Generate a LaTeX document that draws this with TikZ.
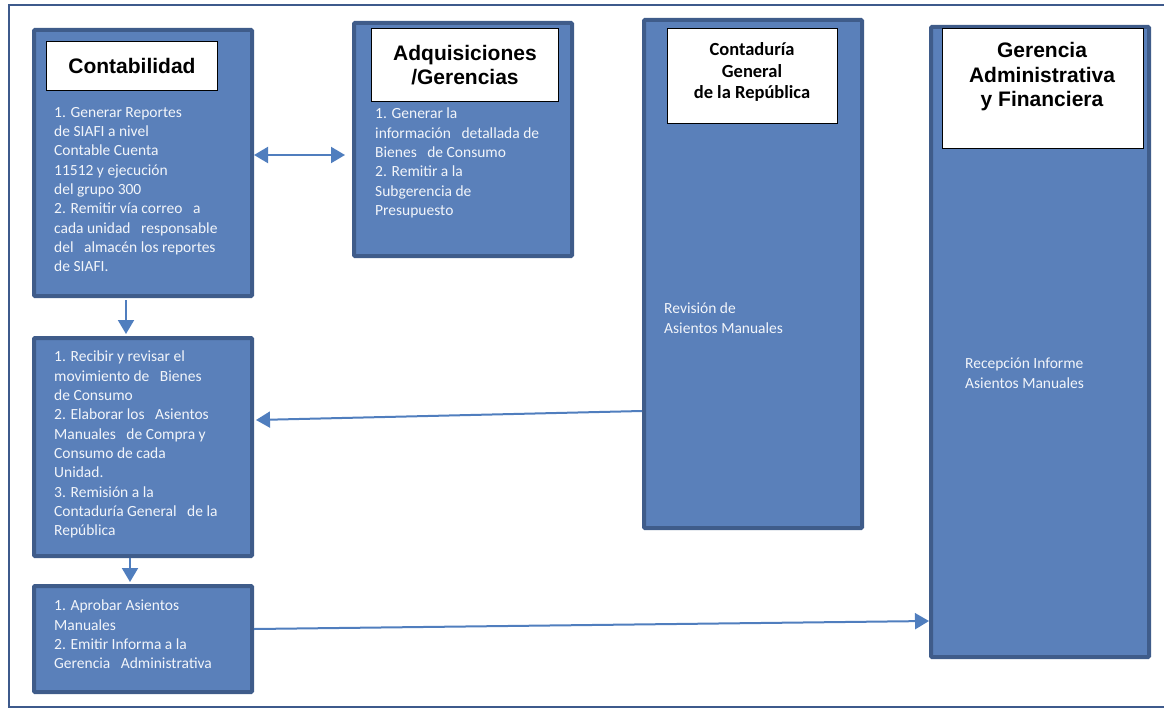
\documentclass[tikz,border=0pt]{standalone}
\usepackage{fontspec}
\setmainfont{Carlito}
\newfontfamily\headfont{Liberation Sans}
\usetikzlibrary{arrows.meta}
\definecolor{lanefill}{RGB}{90,128,186}
\definecolor{laneedge}{RGB}{63,92,138}
\definecolor{arrowblue}{RGB}{80,126,190}
\definecolor{framecol}{RGB}{62,90,140}
\definecolor{bodytext}{RGB}{242,245,250}
\tikzset{
  lane/.style={draw=laneedge, fill=lanefill, line width=4pt, rounded corners=1pt,
    anchor=north west, inner sep=0pt, outer sep=2pt},
  titlebox/.style={draw=black, fill=white, line width=0.9pt, anchor=north west, inner sep=0pt},
  headA/.style={font=\headfont\bfseries\fontsize{21}{23.5}\selectfont, align=center, inner sep=0pt},
  headB/.style={font=\bfseries\fontsize{18.5}{21.5}\selectfont, align=center, inner sep=0pt},
  body/.style={font=\fontsize{15.5}{19.3}\selectfont, text=bodytext, align=left,
    anchor=north west, inner sep=0pt},
  arr/.style={draw=arrowblue, line width=2pt, -{Triangle[length=14pt,width=16pt]}},
  darr/.style={draw=arrowblue, line width=2pt, {Triangle[length=14pt,width=16pt]}-{Triangle[length=14pt,width=16pt]}},
}
\begin{document}
\begin{tikzpicture}[x=1pt,y=-1pt]
\useasboundingbox (0,0) rectangle (1164,709);
% outer frame
\draw[framecol, line width=2pt] (9,5) rectangle (1185,707);

% swim-lane boxes
\node[lane, minimum width=218pt, minimum height=266pt] (cont) at (32,28) {};
\node[lane, minimum width=218pt, minimum height=233pt] (adq) at (352,21) {};
\node[lane, minimum width=218pt, minimum height=508pt] (cgr) at (642,18) {};
\node[lane, minimum width=218pt, minimum height=630pt] (gaf) at (929,25) {};
\node[lane, minimum width=218pt, minimum height=218pt] (mid) at (32,336) {};
\node[lane, minimum width=218pt, minimum height=106pt] (bot) at (32,584) {};

% title boxes
\node[titlebox, minimum width=171pt, minimum height=49pt] (contT) at (46,41) {};
\node[headA] (contH) at (contT.center) {Contabilidad};
\node[titlebox, minimum width=187pt, minimum height=73pt] (adqT) at (371,28) {};
\node[headA] (adqH) at (adqT.center) {Adquisiciones\\/Gerencias};
\node[titlebox, minimum width=170pt, minimum height=95pt] (cgrT) at (667,28) {};
\node[headB] (cgrH) at (752,72) {Contaduría\\General\\de la República};
\node[titlebox, minimum width=201pt, minimum height=120pt] (gafT) at (942,28) {};
\node[headA, font=\headfont\bfseries\fontsize{21}{24.5}\selectfont] (gafH) at (1042,77) {Gerencia\\Administrativa\\y Financiera};

% lane texts
\node[body] (contB) at (54,107) {1. Generar Reportes\\de SIAFI a nivel\\Contable Cuenta\\11512 y ejecución\\del grupo 300\\2. Remitir vía correo \ \ a\\cada unidad \ \ responsable\\del \ \ almacén los reportes\\de SIAFI.};
\node[body] (adqB) at (375,108) {1. Generar la\\información \ \ detallada de\\Bienes \ \ de Consumo\\2. Remitir a la\\Subgerencia de\\Presupuesto};
\node[body] (cgrB) at (664,303) {Revisión de\\Asientos Manuales};
\node[body] (gafB) at (965,358) {Recepción Informe\\Asientos Manuales};
\node[body] (midB) at (54,351) {1. Recibir y revisar el\\movimiento de \ \ Bienes\\de Consumo\\2. Elaborar los \ \ Asientos\\Manuales \ \ de Compra y\\Consumo de cada\\Unidad.\\3. Remisión a la\\Contaduría General \ \ de la\\República};
\node[body] (botB) at (54,600) {1. Aprobar Asientos\\Manuales\\2. Emitir Informa a la\\Gerencia \ \ Administrativa};

% connectors
\draw[darr] ([yshift=8pt]cont.east) -- ([yshift=8pt,xshift=-7pt]cont.east -| adq.west);
\draw[arr] ([xshift=-17pt,yshift=-2pt]cont.south) -- ([xshift=-17pt,yshift=2pt]cont.south |- mid.north);
\draw[arr] ([xshift=-13pt]mid.south) -- ([xshift=-13pt,yshift=2pt]mid.south |- bot.north);
\draw[arr] ([yshift=-137pt]cgr.west) -- ([yshift=27pt,xshift=2pt]mid.east);
\draw[arr] ([yshift=10pt]bot.east) -- ([yshift=-279pt]gaf.west);
\end{tikzpicture}
\end{document}
